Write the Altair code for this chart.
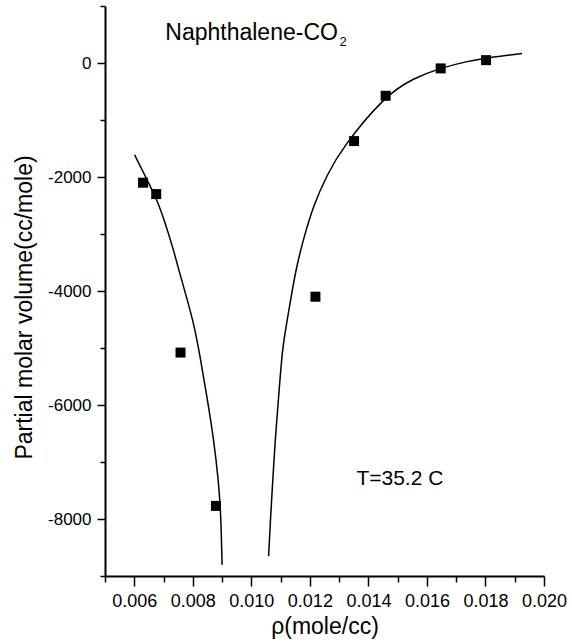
import altair as alt
import pandas as pd

# measured data points (rho in mole/cc, partial molar volume in cc/mole)
rho_pts = [0.0063, 0.00675, 0.00758, 0.00879, 0.01219, 0.01351, 0.01459, 0.01647, 0.01802]
vol_pts = [-2100, -2300, -5080, -7770, -4100, -1370, -575, -95, 50]

# fitted curve, low-density branch
rho_left = [0.00601, 0.00638, 0.00678, 0.00706, 0.00734, 0.00755, 0.00777, 0.00803, 0.00826,
            0.00849, 0.00871, 0.00888, 0.00896, 0.00900]
vol_left = [-1610, -1990, -2400, -2810, -3275, -3685, -4080, -4560, -5175,
            -5880, -6580, -7340, -7925, -8805]

# fitted curve, high-density branch
rho_right = [0.01059, 0.01065, 0.01073, 0.01082, 0.01093, 0.01106, 0.01122, 0.01139, 0.01156,
             0.01179, 0.01213, 0.01259, 0.01310, 0.01458, 0.01555, 0.01646, 0.01737, 0.01806, 0.01925]
vol_right = [-8655, -8040, -7340, -6580, -5880, -5000, -4530, -4005, -3540,
             -3070, -2485, -1960, -1490, -565, -265, -90, 30, 90, 165]

x_major_ticks = [0.006, 0.008, 0.010, 0.012, 0.014, 0.016, 0.018, 0.020]
x_minor_ticks = [0.005, 0.007, 0.009, 0.011, 0.013, 0.015, 0.017, 0.019]
y_major_ticks = [-8000, -6000, -4000, -2000, 0]
y_minor_ticks = [-9000, -7000, -5000, -3000, -1000, 1000]

FONT = "Liberation Sans"

pts = pd.DataFrame({"rho": rho_pts, "vol": vol_pts})
left = pd.DataFrame({"rho": rho_left, "vol": vol_left, "order": list(range(len(rho_left)))})
right = pd.DataFrame({"rho": rho_right, "vol": vol_right, "order": list(range(len(rho_right)))})

xscale = alt.Scale(domain=[0.005, 0.020], nice=False, zero=False)
yscale = alt.Scale(domain=[-9000, 1000], nice=False, zero=False)

x_major_axis = alt.Axis(
    orient="bottom", values=x_major_ticks, labelExpr="format(datum.value, '.3f')",
    labelOverlap=False, labelFlush=False,
    labelFont=FONT, labelFontSize=18, tickSize=10, labelPadding=6, titlePadding=5,
    title="ρ(mole/cc)", grid=False,
)
x_minor_axis = alt.Axis(
    orient="bottom", values=x_minor_ticks, labels=False, tickSize=6,
    title=None, domain=False, grid=False,
)
y_major_axis = alt.Axis(
    orient="left", values=y_major_ticks, labelExpr="'' + datum.value", labelOverlap=False,
    labelFlush=False, labelFont=FONT, labelFontSize=17,
    tickSize=8, labelPadding=6, title="Partial molar volume(cc/mole)",
    titleX=-74, titleY=301, titleAngle=-90, titleAlign="center", titleBaseline="alphabetic",
    grid=False,
)
y_minor_axis = alt.Axis(
    orient="left", values=y_minor_ticks, labels=False, tickSize=5,
    title=None, domain=False, grid=False,
)

line_left = alt.Chart(left).mark_line(color="black", strokeWidth=1.5, interpolate="basis").encode(
    x=alt.X("rho:Q", scale=xscale, axis=x_major_axis),
    y=alt.Y("vol:Q", scale=yscale, axis=y_major_axis),
    order="order:O")
line_right = alt.Chart(right).mark_line(color="black", strokeWidth=1.5, interpolate="basis").encode(
    x=alt.X("rho:Q", scale=xscale, axis=x_minor_axis),
    y=alt.Y("vol:Q", scale=yscale, axis=y_minor_axis),
    order="order:O")

NX = alt.X("rho:Q", scale=xscale, axis=None)
NY = alt.Y("vol:Q", scale=yscale, axis=None)

points = alt.Chart(pts).mark_square(color="black", size=100, opacity=1).encode(x=NX, y=NY)

title_df = pd.DataFrame({"rho": [0.00706], "vol": [403], "label": ["Naphthalene-CO"]})
title_txt = alt.Chart(title_df).mark_text(align="left", baseline="alphabetic", font=FONT,
                                          fontSize=23, color="black").encode(x=NX, y=NY, text="label:N")
sub_df = pd.DataFrame({"rho": [0.01301], "vol": [298], "label": ["2"]})
sub_txt = alt.Chart(sub_df).mark_text(align="left", baseline="alphabetic", font=FONT,
                                      fontSize=13, color="black").encode(x=NX, y=NY, text="label:N")
temp_df = pd.DataFrame({"rho": [0.01359], "vol": [-7404], "label": ["T=35.2 C"]})
temp_txt = alt.Chart(temp_df).mark_text(align="left", baseline="alphabetic", font=FONT,
                                        fontSize=21, color="black").encode(x=NX, y=NY, text="label:N")

chart = alt.layer(line_left, line_right, points, title_txt, sub_txt, temp_txt).resolve_axis(
    x="independent", y="independent"
).properties(
    width=439, height=570,
    autosize=alt.AutoSizeParams(type="none"),
    padding={"left": 105, "top": 6, "right": 28, "bottom": 67},
    background="white",
).configure_view(stroke=None).configure_axis(
    domainColor="black", domainWidth=2, tickColor="black", tickWidth=1.5,
    labelFont=FONT, labelColor="black",
    titleFont=FONT, titleFontSize=23, titleFontWeight="normal", titleColor="black",
)

chart.save("out.html", embed_options={"renderer": "svg", "actions": False})
